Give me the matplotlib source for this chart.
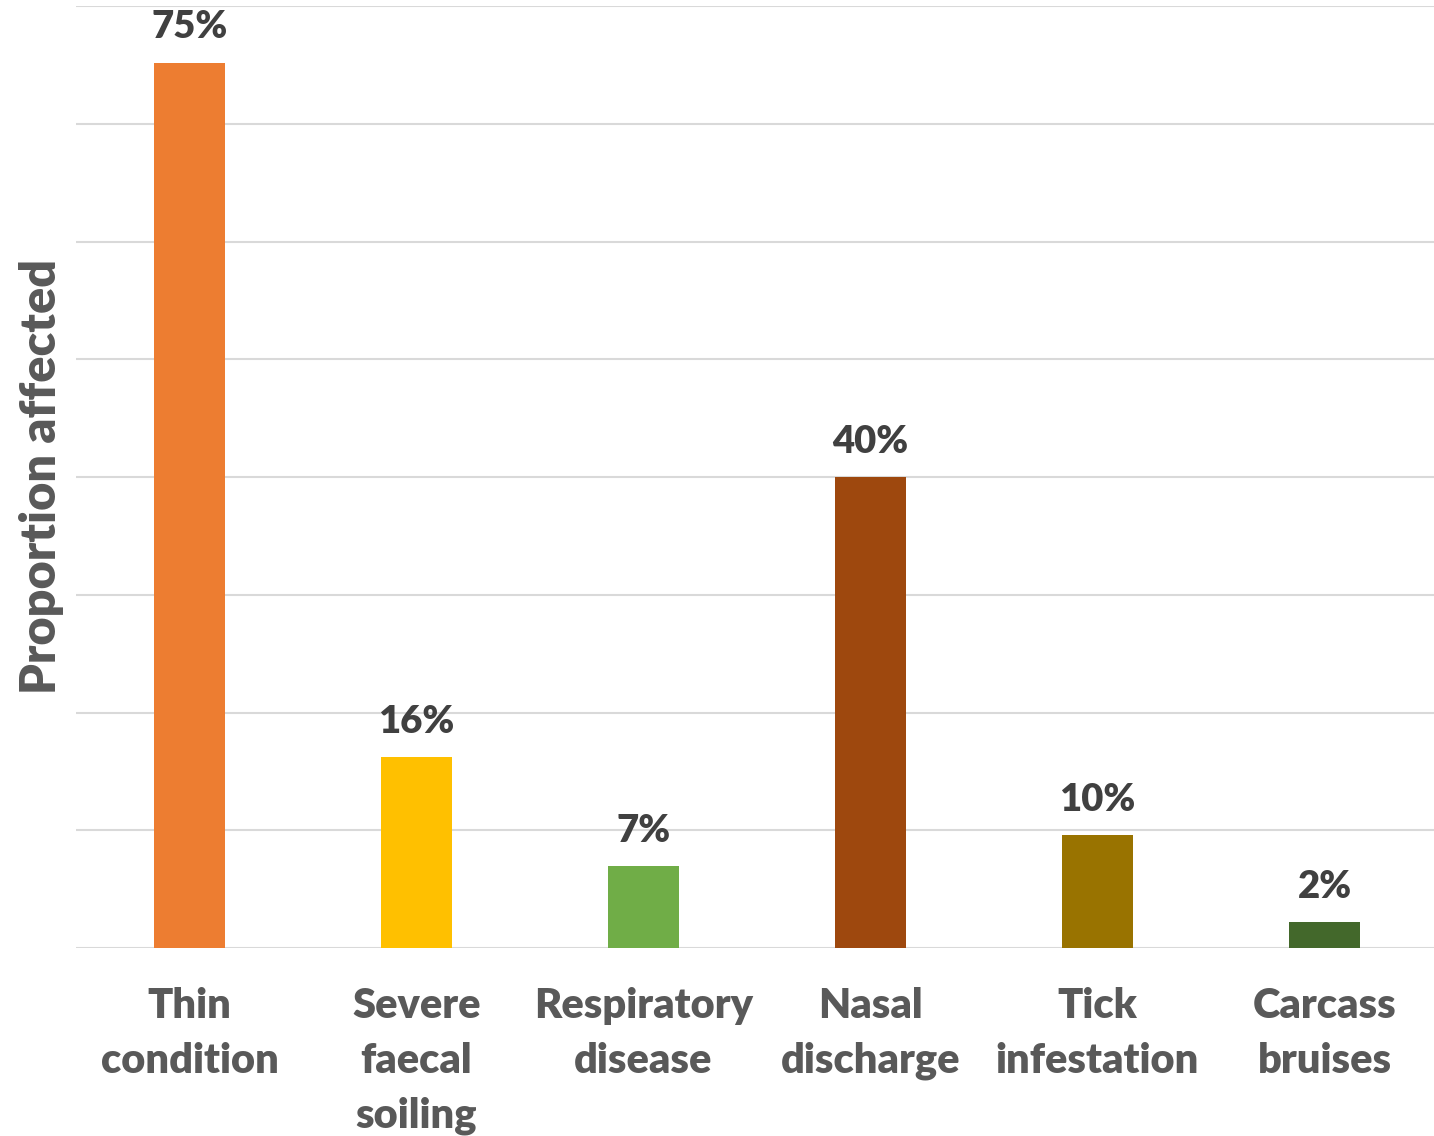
import matplotlib
matplotlib.use("Agg")
import matplotlib.pyplot as plt

categories = ["Thin\ncondition", "Severe\nfaecal\nsoiling", "Respiratory\ndisease",
              "Nasal\ndischarge", "Tick\ninfestation", "Carcass\nbruises"]
values = [75.2, 16.2, 7.0, 40.0, 9.6, 2.2]
labels = ["75%", "16%", "7%", "40%", "10%", "2%"]
colors = ["#ED7D31", "#FFC000", "#70AD47", "#9E480E", "#997300", "#43682B"]

plt.rcParams['font.family'] = ['Lato', 'DejaVu Sans']

W, H = 1434, 1136
fig = plt.figure(figsize=(W/100, H/100), dpi=100)
ax = fig.add_axes([76/W, (H-948)/H, 1362/W, (948-6)/H])

x = list(range(len(categories)))
ax.bar(x, values, width=0.317, color=colors, zorder=3)
ax.set_xlim(-0.5, 5.5)
ax.set_ylim(0, 80)
ax.set_yticks(range(0, 81, 10))
ax.set_yticklabels([])
ax.tick_params(axis='y', length=0)
ax.grid(axis='y', color='#D9D9D9', linewidth=1.5, zorder=0)
for s in ax.spines.values():
    s.set_visible(False)

ax.set_xticks(x)
ax.set_xticklabels(categories, fontsize=30, fontweight='heavy', color='#595959',
                   linespacing=1.55, va='top')
ax.tick_params(axis='x', length=0, pad=28)

for xi, v, lab in zip(x, values, labels):
    ax.annotate(lab, (xi, v), xytext=(0, 13), textcoords='offset points',
                ha='center', va='bottom', fontsize=27.5, fontweight='heavy', color='#404040')

fig.text(42/W, 1 - 477/H, "Proportion affected", rotation=90, ha='center', va='center',
         fontsize=35, fontweight='heavy', color='#595959')

fig.savefig("out.png", dpi=100)
